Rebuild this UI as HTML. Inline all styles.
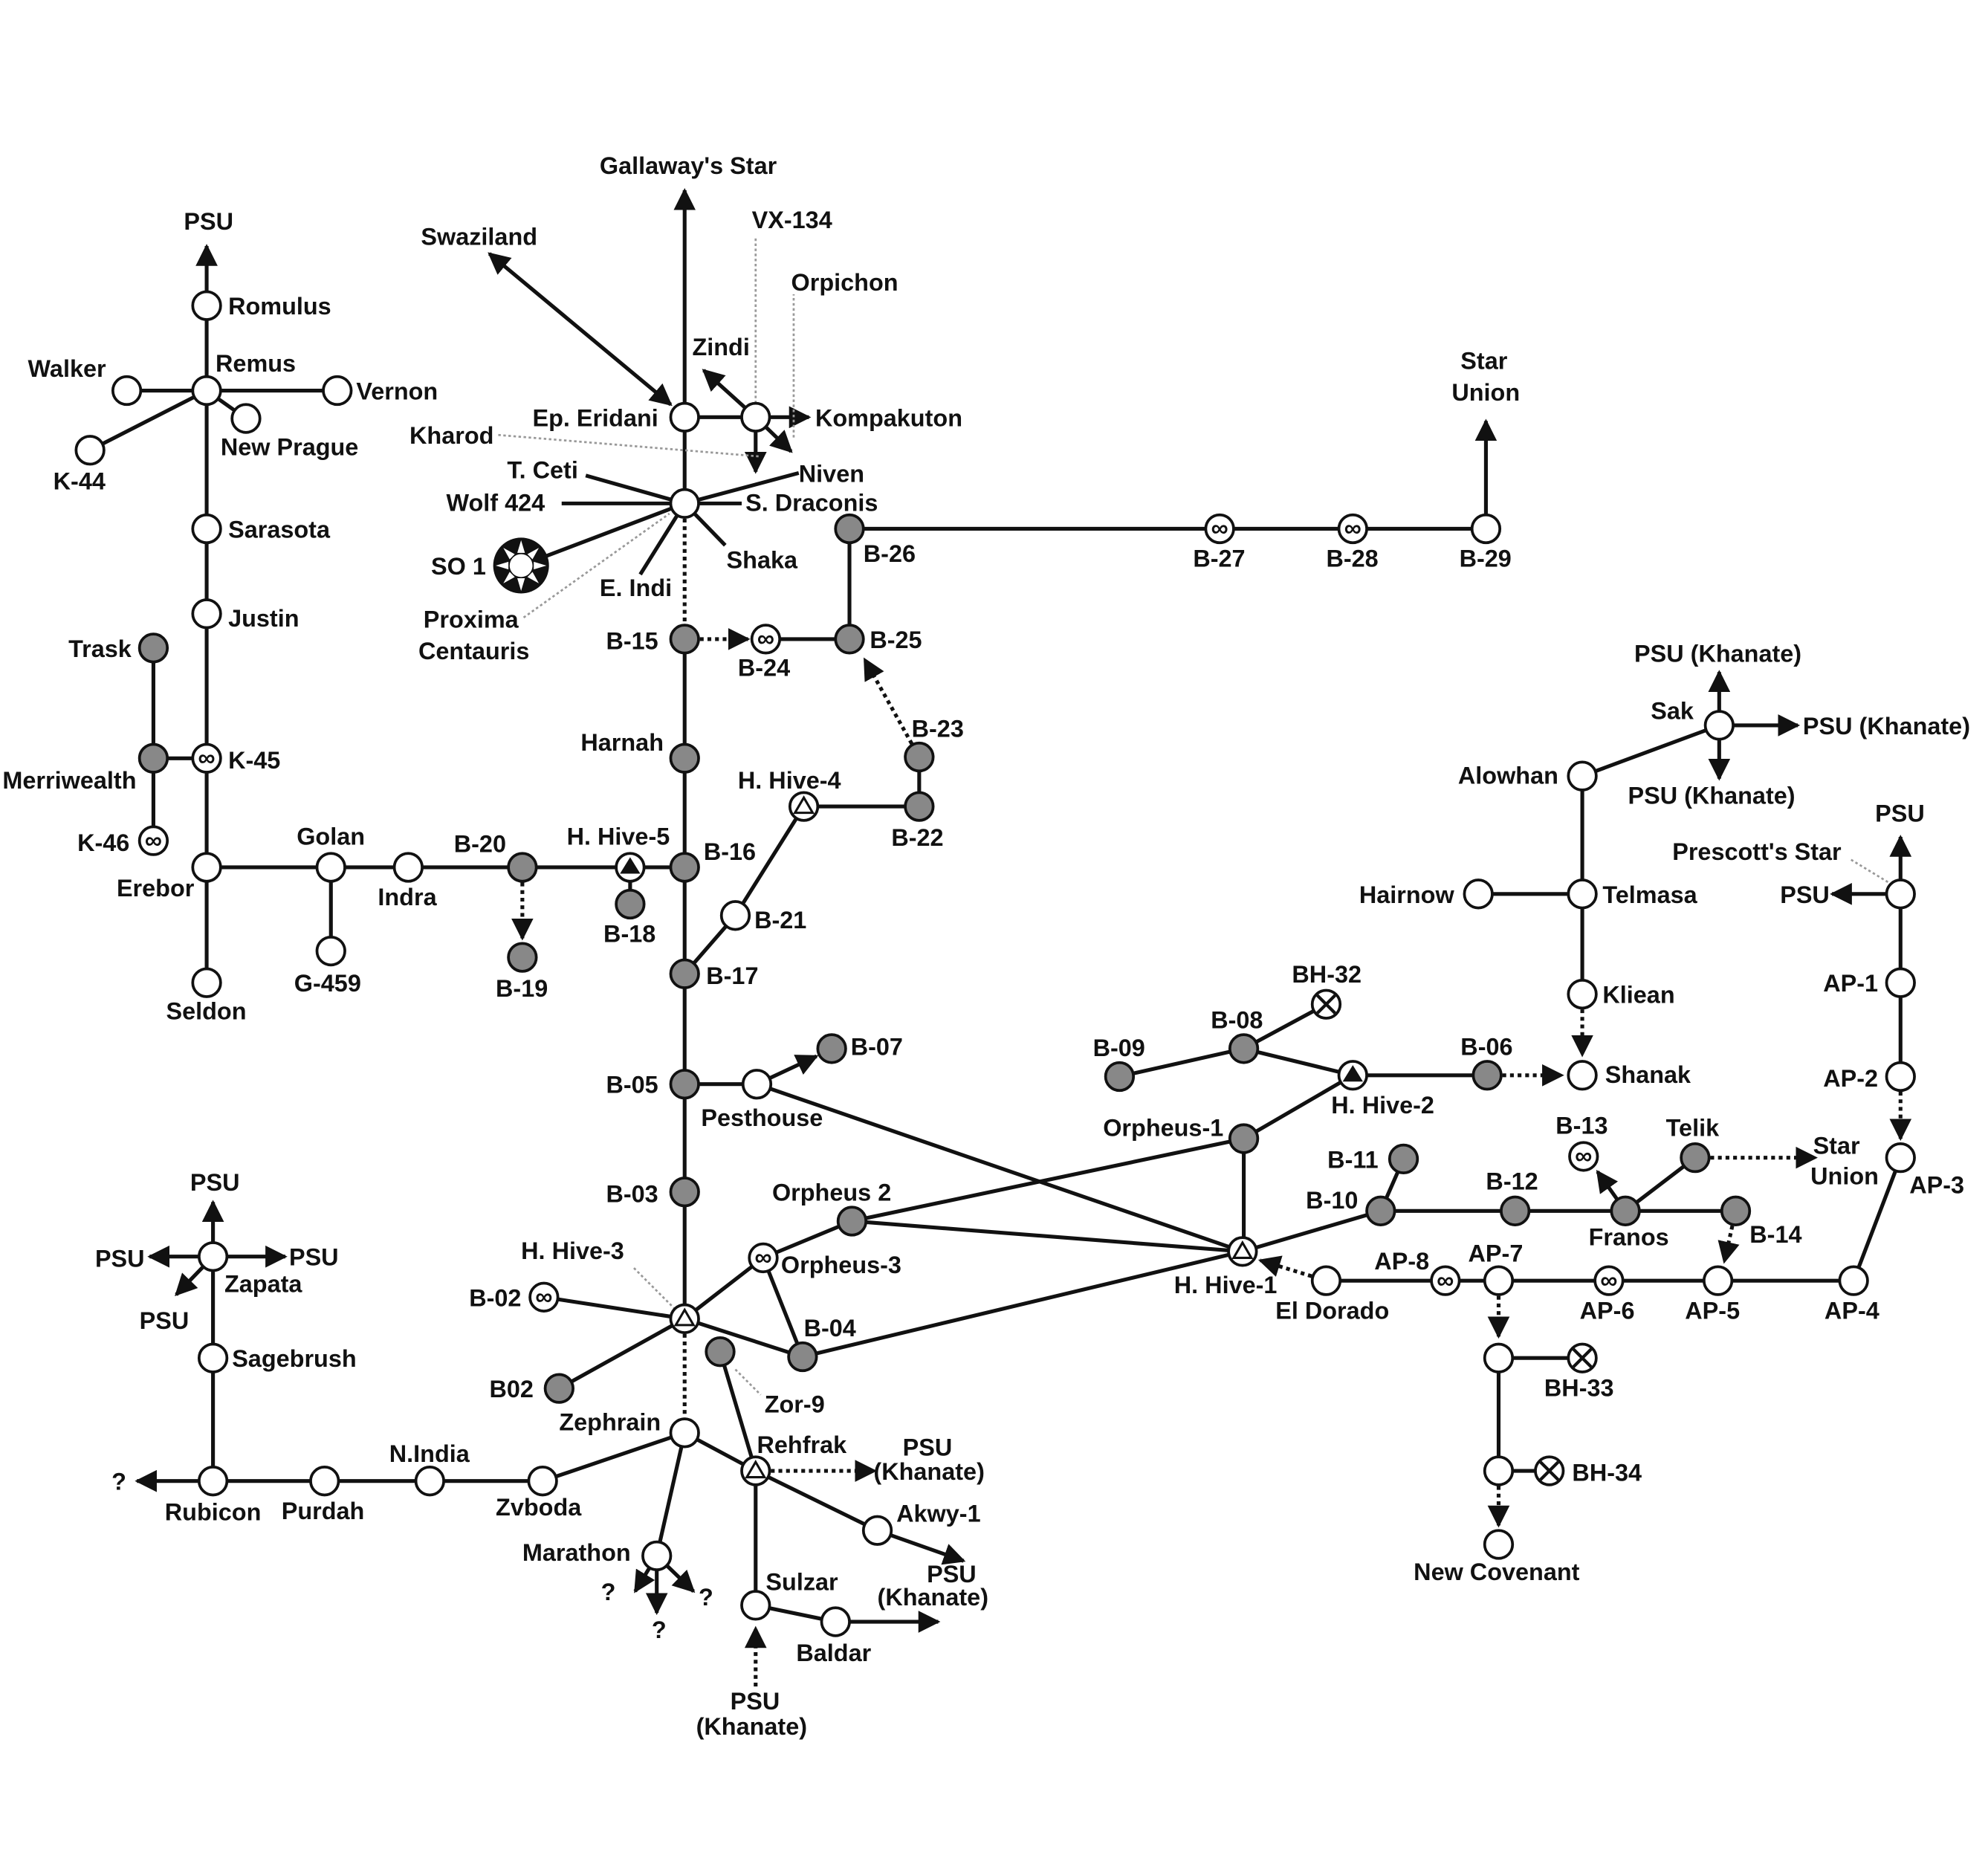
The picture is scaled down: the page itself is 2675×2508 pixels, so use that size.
<!DOCTYPE html>
<html><head><meta charset="utf-8"><style>
html,body{margin:0;padding:0;background:#fff}
svg{display:block}
text{font-family:"Liberation Sans",sans-serif;font-weight:bold;font-size:19px;fill:#111}
.l{stroke:#111;stroke-width:3;fill:none}
.d{stroke:#111;stroke-width:3;fill:none;stroke-dasharray:3,3}
.g{stroke:#999;stroke-width:1.6;fill:none;stroke-dasharray:2,2}
.w{fill:#fff;stroke:#111;stroke-width:2.2}
.k{fill:#888;stroke:#111;stroke-width:2.2}
</style></head><body>
<svg width="2675" height="2508" viewBox="0 0 1568 1470" xmlns="http://www.w3.org/2000/svg">
<defs>
<marker id="a" viewBox="0 0 10 10" refX="9" refY="5" markerWidth="5.8" markerHeight="5.8" orient="auto-start-reverse"><path d="M0,0L10,5L0,10z" fill="#111"/></marker>
</defs>
<rect width="1568" height="1470" fill="#fff"/>
<!-- Left cluster -->
<path class="l" d="M163,775V194" marker-end="url(#a)"/>
<path class="l" d="M100,308H266M163,308L194,330M163,308L71,355M121,511V663M121,598H163"/>
<path class="l" d="M163,684H540M261,684V750M497,684V713"/>
<path class="d" d="M412,684V740" marker-end="url(#a)"/>
<!-- central column -->
<path class="l" d="M540,329V150" marker-end="url(#a)"/>
<path class="l" d="M540,329V397"/>
<path class="d" d="M540,397V504"/>
<path class="l" d="M540,504V1040"/>
<path class="d" d="M540,1040V1130"/>
<path class="l" d="M540,329H596"/>
<path class="l" d="M596,329H638" marker-end="url(#a)"/>
<path class="l" d="M596,329L555,292" marker-end="url(#a)"/>
<path class="l" d="M596,329V372" marker-end="url(#a)"/>
<path class="l" d="M596,329L624,356" marker-end="url(#a)"/>
<path class="l" d="M529,319L386,200" marker-start="url(#a)" marker-end="url(#a)"/>
<path class="g" d="M596,318V188M626,345V232M393,343L600,360M413,487L528,405"/>
<path class="l" d="M540,397L462,375M540,397H443M540,397L411,446M540,397L630,373M540,397H585M540,397L572,430M540,397L505,453"/>
<path class="d" d="M540,504H590" marker-end="url(#a)"/>
<path class="l" d="M604,504H670V417H1172V332" marker-end="url(#a)"/>
<path class="d" d="M725,597L682,520" marker-end="url(#a)"/>
<path class="l" d="M725,597V636H634L580,722L540,768"/>
<path class="l" d="M540,855H597L644,833" marker-end="url(#a)"/>
<path class="l" d="M597,855L980,987"/>
<path class="l" d="M540,1040L429,1023M540,1040L441,1095M540,1040L602,992L672,963L981,898L1067,848L981,827L883,849M981,827L1046,792M602,992L633,1070L540,1040M672,963L980,987M633,1070L980,987M981,898V987"/>
<path class="l" d="M1067,848H1173"/>
<path class="d" d="M1173,848H1232" marker-end="url(#a)"/>
<path class="l" d="M980,987L1089,955L1107,914M1089,955H1369M1282,955L1337,913"/>
<path class="l" d="M1282,955L1260,924" marker-end="url(#a)"/>
<path class="d" d="M1337,913H1432" marker-end="url(#a)"/>
<path class="d" d="M1369,955L1360,995" marker-end="url(#a)"/>
<path class="d" d="M1046,1010L994,994" marker-end="url(#a)"/>
<path class="l" d="M1046,1010H1462L1499,913"/>
<path class="d" d="M1499,849V898" marker-end="url(#a)"/>
<path class="l" d="M1499,849V705"/>
<path class="l" d="M1499,705V660" marker-end="url(#a)"/>
<path class="l" d="M1499,705H1445" marker-end="url(#a)"/>
<path class="g" d="M1460,678L1493,698"/>
<path class="d" d="M1182,1010V1054" marker-end="url(#a)"/>
<path class="l" d="M1182,1071H1248M1182,1071V1160H1222"/>
<path class="d" d="M1182,1160V1203" marker-end="url(#a)"/>
<path class="l" d="M1166,705H1248M1248,612V784M1248,612L1356,572"/>
<path class="d" d="M1248,784V832" marker-end="url(#a)"/>
<path class="l" d="M1356,572V530" marker-end="url(#a)"/>
<path class="l" d="M1356,572H1418" marker-end="url(#a)"/>
<path class="l" d="M1356,572V614" marker-end="url(#a)"/>
<!-- bottom left -->
<path class="l" d="M168,991V948" marker-end="url(#a)"/>
<path class="l" d="M168,991H118" marker-end="url(#a)"/>
<path class="l" d="M168,991H225" marker-end="url(#a)"/>
<path class="l" d="M168,991L139,1021" marker-end="url(#a)"/>
<path class="l" d="M168,991V1168H428L540,1130"/>
<path class="l" d="M168,1168H108" marker-end="url(#a)"/>
<path class="l" d="M540,1130L518,1227M540,1130L596,1160M568,1066L596,1160L692,1207M596,1160V1266L659,1279"/>
<path class="l" d="M518,1227L501,1255" marker-end="url(#a)"/>
<path class="l" d="M518,1227V1272" marker-end="url(#a)"/>
<path class="l" d="M518,1227L547,1255" marker-end="url(#a)"/>
<path class="l" d="M692,1207L760,1231" marker-end="url(#a)"/>
<path class="l" d="M659,1279H740" marker-end="url(#a)"/>
<path class="d" d="M596,1160H690" marker-end="url(#a)"/>
<path class="d" d="M596,1330V1284" marker-end="url(#a)"/>
<path class="g" d="M580,1080L600,1100M500,1000L533,1033"/>
<!-- nodes -->
<g class="w">
<circle cx="163" cy="241" r="11"/><circle cx="163" cy="308" r="11"/><circle cx="100" cy="308" r="11"/><circle cx="266" cy="308" r="11"/><circle cx="194" cy="330" r="11"/><circle cx="71" cy="355" r="11"/><circle cx="163" cy="417" r="11"/><circle cx="163" cy="484" r="11"/><circle cx="163" cy="684" r="11"/><circle cx="163" cy="775" r="11"/><circle cx="261" cy="684" r="11"/><circle cx="322" cy="684" r="11"/><circle cx="261" cy="750" r="11"/>
<circle cx="540" cy="329" r="11"/><circle cx="596" cy="329" r="11"/><circle cx="540" cy="397" r="11"/><circle cx="1172" cy="417" r="11"/><circle cx="580" cy="722" r="11"/><circle cx="597" cy="855" r="11"/><circle cx="540" cy="1130" r="11"/><circle cx="518" cy="1227" r="11"/><circle cx="692" cy="1207" r="11"/><circle cx="596" cy="1266" r="11"/><circle cx="659" cy="1279" r="11"/>
<circle cx="168" cy="991" r="11"/><circle cx="168" cy="1071" r="11"/><circle cx="168" cy="1168" r="11"/><circle cx="256" cy="1168" r="11"/><circle cx="339" cy="1168" r="11"/><circle cx="428" cy="1168" r="11"/>
<circle cx="1248" cy="848" r="11"/><circle cx="1046" cy="1010" r="11"/><circle cx="1182" cy="1010" r="11"/><circle cx="1355" cy="1010" r="11"/><circle cx="1462" cy="1010" r="11"/><circle cx="1499" cy="913" r="11"/><circle cx="1499" cy="849" r="11"/><circle cx="1499" cy="775" r="11"/><circle cx="1499" cy="705" r="11"/><circle cx="1182" cy="1071" r="11"/><circle cx="1182" cy="1160" r="11"/><circle cx="1182" cy="1218" r="11"/><circle cx="1248" cy="705" r="11"/><circle cx="1166" cy="705" r="11"/><circle cx="1248" cy="612" r="11"/><circle cx="1248" cy="784" r="11"/><circle cx="1356" cy="572" r="11"/>
<circle cx="163" cy="598" r="11"/><circle cx="121" cy="663" r="11"/><circle cx="604" cy="504" r="11"/><circle cx="962" cy="417" r="11"/><circle cx="1067" cy="417" r="11"/><circle cx="429" cy="1023" r="11"/><circle cx="602" cy="992" r="11"/><circle cx="1249" cy="912" r="11"/><circle cx="1140" cy="1010" r="11"/><circle cx="1269" cy="1010" r="11"/>
<circle cx="1046" cy="792" r="11"/><circle cx="1248" cy="1071" r="11"/><circle cx="1222" cy="1160" r="11"/>
<circle cx="497" cy="684" r="11"/><circle cx="634" cy="636" r="11"/><circle cx="540" cy="1040" r="11"/><circle cx="1067" cy="848" r="11"/><circle cx="980" cy="987" r="11"/><circle cx="596" cy="1160" r="11"/>
</g>
<g class="k">
<circle cx="121" cy="511" r="11"/><circle cx="121" cy="598" r="11"/><circle cx="412" cy="684" r="11"/><circle cx="412" cy="755" r="11"/><circle cx="497" cy="713" r="11"/><circle cx="540" cy="684" r="11"/>
<circle cx="540" cy="504" r="11"/><circle cx="540" cy="598" r="11"/><circle cx="540" cy="768" r="11"/><circle cx="540" cy="855" r="11"/><circle cx="540" cy="940" r="11"/><circle cx="670" cy="504" r="11"/><circle cx="670" cy="417" r="11"/><circle cx="725" cy="597" r="11"/><circle cx="725" cy="636" r="11"/><circle cx="656" cy="827" r="11"/>
<circle cx="441" cy="1095" r="11"/><circle cx="633" cy="1070" r="11"/><circle cx="672" cy="963" r="11"/><circle cx="568" cy="1066" r="11"/><circle cx="981" cy="898" r="11"/><circle cx="981" cy="827" r="11"/><circle cx="883" cy="849" r="11"/><circle cx="1173" cy="848" r="11"/><circle cx="1089" cy="955" r="11"/><circle cx="1107" cy="914" r="11"/><circle cx="1195" cy="955" r="11"/><circle cx="1282" cy="955" r="11"/><circle cx="1369" cy="955" r="11"/><circle cx="1337" cy="913" r="11"/>
</g>
<!-- infinity -->
<g style="font-size:17px;text-anchor:middle">
<text x="163" y="604">∞</text><text x="121" y="669">∞</text><text x="604" y="510">∞</text><text x="962" y="423">∞</text><text x="1067" y="423">∞</text><text x="429" y="1029">∞</text><text x="602" y="998">∞</text><text x="1249" y="918">∞</text><text x="1140" y="1016">∞</text><text x="1269" y="1016">∞</text>
</g>
<!-- crosses -->
<path stroke="#111" stroke-width="2.5" d="M1039,785l14,14m0,-14l-14,14M1241,1064l14,14m0,-14l-14,14M1215,1153l14,14m0,-14l-14,14"/>
<!-- triangles -->
<g fill="none" stroke="#111" stroke-width="1.8">
<path d="M634,629l7,12h-14z"/><path d="M540,1033l7,12h-14z"/><path d="M980,980l7,12h-14z"/><path d="M596,1153l7,12h-14z"/>
</g>
<g fill="#111"><path d="M497,676l8,13h-16z"/><path d="M1067,840l8,13h-16z"/></g>
<!-- SO 1 -->
<circle cx="411" cy="446" r="22" fill="#111"/>
<g fill="#fff"><path d="M411,426l3,10h-6zM411,466l3,-10h-6zM391,446l10,3v-6zM431,446l-10,3v-6zM397,432l9,5-4,4zM425,432l-9,5 4,4zM397,460l9,-5-4,-4zM425,460l-9,-5 4,-4z"/></g>
<circle cx="411" cy="446" r="9" fill="#fff"/>
<!-- labels -->
<text x="145" y="181">PSU</text><text x="180" y="248">Romulus</text><text x="170" y="293">Remus</text><text x="22" y="297">Walker</text><text x="281" y="315">Vernon</text><text x="174" y="359">New Prague</text><text x="42" y="386">K-44</text><text x="180" y="424">Sarasota</text><text x="180" y="494">Justin</text><text x="54" y="518">Trask</text><text x="2" y="622">Merriwealth</text><text x="180" y="606">K-45</text><text x="61" y="671">K-46</text><text x="92" y="707">Erebor</text><text x="131" y="804">Seldon</text><text x="234" y="666">Golan</text><text x="298" y="714">Indra</text><text x="358" y="672">B-20</text><text x="232" y="782">G-459</text><text x="391" y="786">B-19</text><text x="447" y="666">H. Hive-5</text><text x="476" y="743">B-18</text><text x="555" y="678">B-16</text>
<text x="473" y="137">Gallaway's Star</text><text x="332" y="193">Swaziland</text><text x="593" y="180">VX-134</text><text x="624" y="229">Orpichon</text><text x="546" y="280">Zindi</text><text x="420" y="336">Ep. Eridani</text><text x="643" y="336">Kompakuton</text><text x="323" y="350">Kharod</text><text x="630" y="380">Niven</text><text x="400" y="377">T. Ceti</text><text x="352" y="403">Wolf 424</text><text x="588" y="403">S. Draconis</text><text x="340" y="453">SO 1</text><text x="573" y="448">Shaka</text><text x="473" y="470">E. Indi</text><text x="334" y="495">Proxima</text><text x="330" y="520">Centauris</text>
<text x="681" y="443">B-26</text><text x="941" y="447">B-27</text><text x="1046" y="447">B-28</text><text x="1151" y="447">B-29</text><text x="1152" y="291">Star</text><text x="1145" y="316">Union</text>
<text x="478" y="512">B-15</text><text x="582" y="533">B-24</text><text x="686" y="511">B-25</text><text x="458" y="592">Harnah</text><text x="719" y="581">B-23</text><text x="582" y="622">H. Hive-4</text><text x="703" y="667">B-22</text><text x="595" y="732">B-21</text><text x="557" y="776">B-17</text><text x="478" y="862">B-05</text><text x="671" y="832">B-07</text><text x="553" y="888">Pesthouse</text><text x="478" y="948">B-03</text>
<text x="609" y="947">Orpheus 2</text><text x="616" y="1004">Orpheus-3</text><text x="411" y="993">H. Hive-3</text><text x="370" y="1030">B-02</text><text x="386" y="1102">B02</text><text x="634" y="1054">B-04</text><text x="603" y="1114">Zor-9</text><text x="441" y="1128">Zephrain</text><text x="597" y="1146">Rehfrak</text><text x="712" y="1148">PSU</text><text x="689" y="1167">(Khanate)</text><text x="707" y="1200">Akwy-1</text><text x="731" y="1248">PSU</text><text x="692" y="1266">(Khanate)</text><text x="412" y="1231">Marathon</text><text x="474" y="1262">?</text><text x="514" y="1292">?</text><text x="551" y="1266">?</text><text x="604" y="1254">Sulzar</text><text x="628" y="1310">Baldar</text><text x="576" y="1348">PSU</text><text x="549" y="1368">(Khanate)</text>
<text x="150" y="939">PSU</text><text x="75" y="999">PSU</text><text x="228" y="998">PSU</text><text x="110" y="1048">PSU</text><text x="177" y="1019">Zapata</text><text x="183" y="1078">Sagebrush</text><text x="88" y="1175">?</text><text x="130" y="1199">Rubicon</text><text x="222" y="1198">Purdah</text><text x="307" y="1153">N.India</text><text x="391" y="1195">Zvboda</text>
<text x="862" y="833">B-09</text><text x="955" y="811">B-08</text><text x="1019" y="775">BH-32</text><text x="870" y="896">Orpheus-1</text><text x="1050" y="878">H. Hive-2</text><text x="1152" y="832">B-06</text><text x="1266" y="854">Shanak</text>
<text x="1047" y="921">B-11</text><text x="1030" y="953">B-10</text><text x="1172" y="938">B-12</text><text x="1227" y="894">B-13</text><text x="1314" y="896">Telik</text><text x="1430" y="910">Star</text><text x="1428" y="934">Union</text><text x="1253" y="982">Franos</text><text x="1380" y="980">B-14</text>
<text x="926" y="1020">H. Hive-1</text><text x="1006" y="1040">El Dorado</text><text x="1084" y="1001">AP-8</text><text x="1158" y="995">AP-7</text><text x="1246" y="1040">AP-6</text><text x="1329" y="1040">AP-5</text><text x="1439" y="1040">AP-4</text><text x="1506" y="941">AP-3</text><text x="1438" y="857">AP-2</text><text x="1438" y="782">AP-1</text><text x="1404" y="712">PSU</text><text x="1479" y="648">PSU</text><text x="1319" y="678">Prescott's Star</text>
<text x="1218" y="1101">BH-33</text><text x="1240" y="1168">BH-34</text><text x="1115" y="1246">New Covenant</text>
<text x="1072" y="712">Hairnow</text><text x="1264" y="712">Telmasa</text><text x="1264" y="791">Kliean</text><text x="1150" y="618">Alowhan</text><text x="1302" y="567">Sak</text><text x="1289" y="522">PSU (Khanate)</text><text x="1422" y="579">PSU (Khanate)</text><text x="1284" y="634">PSU (Khanate)</text>
</svg>
</body></html>
